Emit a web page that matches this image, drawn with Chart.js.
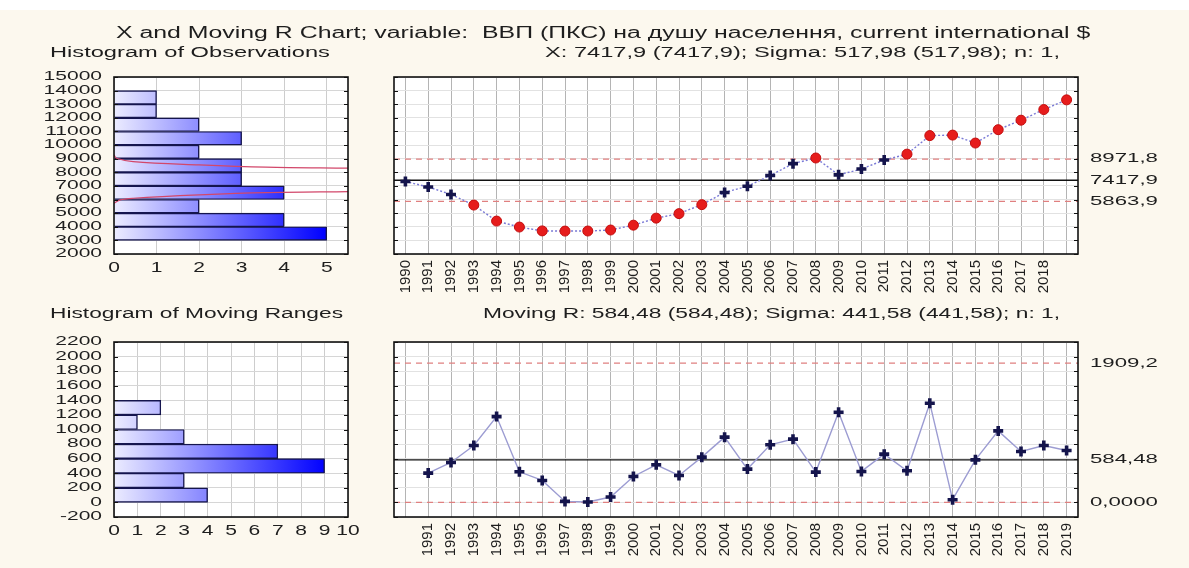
<!DOCTYPE html>
<html>
<head>
<meta charset="utf-8">
<script src="https://cdn.jsdelivr.net/npm/chart.js@4.4.1/dist/chart.umd.min.js"></script>
<style>
  html, body { margin: 0; padding: 0; }
  body { width: 1189px; height: 568px; background: #fcf8ee; position: relative; overflow: hidden; }
  .strip { position: absolute; left: 0; top: 0; width: 1189px; height: 10px; background: #fff; }
  canvas { position: absolute; left: 0; top: 0; }
  .t { position: absolute; white-space: pre; transform-origin: left center; color: #1e1e1e; line-height: 1; }
</style>
</head>
<body>
<div class="strip"></div>
<canvas id="obsHist" width="1189" height="568"></canvas>
<canvas id="xChart" width="1189" height="568"></canvas>
<canvas id="mrHist" width="1189" height="568"></canvas>
<canvas id="mrChart" width="1189" height="568"></canvas>
<script>
// --- data ---
const years = ['1990','1991','1992','1993','1994','1995','1996','1997','1998','1999',
  '2000','2001','2002','2003','2004','2005','2006','2007','2008','2009',
  '2010','2011','2012','2013','2014','2015','2016','2017','2018','2019'];
const xTickLabels = ['1990','1991','1992','1993','1994','1995','1996','1997','1998','1999',
  '2000','2001','2002','2003','2004','2005','2006','2007','2008','2009',
  '2010','2011','2012','2013','2014','2015','2016','2017','2018',''];
const mrTickLabels = ['','1991','1992','1993','1994','1995','1996','1997','1998','1999',
  '2000','2001','2002','2003','2004','2005','2006','2007','2008','2009',
  '2010','2011','2012','2013','2014','2015','2016','2017','2018','2019'];

// GDP (PPP) per capita, current international $
const gdpValues = [7325, 6923, 6375, 5595, 4418, 3980, 3697, 3683, 3688, 3762,
  4118, 4634, 4965, 5625, 6520, 6977, 7767, 8635, 9051, 7814,
  8239, 8901, 9335, 10696, 10733, 10149, 11130, 11828, 12608, 13320];
// moving ranges (no value for the first year)
const mrValues = [null, 402, 548, 780, 1177, 420, 301, 14, 5, 74,
  356, 516, 370, 621, 895, 457, 790, 868, 416, 1237,
  425, 662, 434, 1361, 37, 584, 981, 698, 780, 712];

const xCenter = 7417.9, xUcl = 8971.8, xLcl = 5863.9;
const xLimitLabels = ['8971,8', '7417,9', '5863,9'];
const mrCenter = 584.48, mrUcl = 1909.2, mrLcl = 0;
const mrLimitLabels = ['1909,2', '584,48', '0,0000'];

// histogram of observations (bin start, width 1000)
const obsBinStart = [3000, 4000, 5000, 6000, 7000, 8000, 9000, 10000, 11000, 12000, 13000];
const obsCounts   = [5, 4, 2, 4, 3, 3, 2, 3, 2, 1, 1];
const obsBinWidth = 1000;
// normal curve drawn over it, two branches (count, value)
const normUpperCount = [0, 0.06, 0.45, 2.0, 3.57, 5.5];
const normUpperValue = [9280, 9035, 8787, 8544, 8375, 8300];
const normLowerCount = [0, 0.14, 0.45, 2.0, 3.57, 5.5];
const normLowerValue = [5728, 5970, 6093, 6338, 6507, 6581];

// histogram of moving ranges (bin start, width 200)
const mrBinStart = [0, 200, 400, 600, 800, 1000, 1200];
const mrCounts   = [4, 3, 9, 7, 3, 1, 2];
const mrBinWidth = 200;

// axis ticks
const obsAxisTicks = [2000,3000,4000,5000,6000,7000,8000,9000,10000,11000,12000,13000,14000,15000];
const obsCountTicks = [0, 1, 2, 3, 4, 5];
const mrAxisTicks = [-200,0,200,400,600,800,1000,1200,1400,1600,1800,2000,2200];
const mrCountTicks = [0,1,2,3,4,5,6,7,8,9,10];

const mainTitle = 'X and Moving R Chart; variable:  ВВП (ПКС) на душу населення, current international $';
const obsHistTitle = 'Histogram of Observations';
const xSubTitle = 'X: 7417,9 (7417,9); Sigma: 517,98 (517,98); n: 1,';
const mrHistTitle = 'Histogram of Moving Ranges';
const mrSubTitle = 'Moving R: 584,48 (584,48); Sigma: 441,58 (441,58); n: 1,';

// --- layout ---
const W = 1189, H = 568;
const FONT = '"Liberation Sans", Arial, sans-serif';
const TXT = '#1e1e1e';
const histBox = { left: 114, right: 348 };
const ctrlBox = { left: 394, right: 1078 };
const topRow = { top: 77, bottom: 254 };
const botRow = { top: 342, bottom: 517 };

function pad(box, row, xAxisH) {
  return { left: box.left, right: W - box.right, top: row.top, bottom: H - row.bottom - (xAxisH || 0) };
}

// white plot area, black frame, short inner ticks
const panel = {
  id: 'panel',
  beforeDraw(chart) {
    const a = chart.chartArea, ctx = chart.ctx;
    ctx.save();
    ctx.fillStyle = '#fff';
    ctx.fillRect(a.left, a.top, a.width, a.height);
    ctx.restore();
  },
  afterDraw(chart) {
    const a = chart.chartArea, ctx = chart.ctx, ys = chart.scales.y;
    ctx.save();
    ctx.strokeStyle = '#111';
    ctx.lineWidth = 1;
    ys.ticks.forEach(t => {
      const p = Math.round(ys.getPixelForValue(t.value)) + 0.5;
      ctx.beginPath();
      ctx.moveTo(a.left, p); ctx.lineTo(a.left + 4, p);
      ctx.moveTo(a.right, p); ctx.lineTo(a.right - 4, p);
      ctx.stroke();
    });
    ctx.lineWidth = 1.6;
    ctx.strokeRect(a.left, a.top, a.width, a.height);
    ctx.restore();
  }
};

// horizontally stretched labels, placed through the chart's scales
function labels(specs) {
  return {
    id: 'labels',
    afterDraw(chart) {
      const ctx = chart.ctx, a = chart.chartArea;
      specs.forEach(sp => {
        const s = chart.scales[sp.scale];
        ctx.save();
        ctx.font = sp.font;
        ctx.fillStyle = TXT;
        ctx.textBaseline = 'middle';
        sp.values.forEach((v, i) => {
          const p = s.getPixelForValue(v);
          const text = sp.texts ? sp.texts[i] : String(v);
          let x, y, align;
          if (sp.side === 'bottom') { x = p; y = a.bottom + sp.gap; align = 'center'; }
          else if (sp.side === 'left') { x = a.left - sp.gap; y = p; align = 'right'; }
          else { x = a.right + sp.gap; y = p; align = 'left'; }
          ctx.save();
          ctx.translate(x, y);
          ctx.scale(sp.sx, 1);
          ctx.textAlign = align;
          ctx.fillText(text, 0, 0);
          ctx.restore();
        });
        ctx.restore();
      });
    }
  };
}

// center line and control limits
function controlLines(center, ucl, lcl) {
  return {
    id: 'controlLines',
    beforeDatasetsDraw(chart) {
      const ctx = chart.ctx, a = chart.chartArea, ys = chart.scales.y;
      ctx.save();
      ctx.lineWidth = 1.3;
      ctx.strokeStyle = '#e08080';
      ctx.setLineDash([6, 5]);
      [ucl, lcl].forEach(v => {
        const p = ys.getPixelForValue(v);
        ctx.beginPath(); ctx.moveTo(a.left, p); ctx.lineTo(a.right, p); ctx.stroke();
      });
      ctx.setLineDash([]);
      ctx.strokeStyle = '#111';
      const c = ys.getPixelForValue(center);
      ctx.beginPath(); ctx.moveTo(a.left, c); ctx.lineTo(a.right, c); ctx.stroke();
      ctx.restore();
    }
  };
}

function barGradient(ctx) {
  const chart = ctx.chart, a = chart.chartArea;
  if (!a) return '#8080ff';
  const g = chart.ctx.createLinearGradient(a.left, 0, a.left + 212, 0);
  g.addColorStop(0, '#ececff');
  g.addColorStop(1, '#0000ff');
  return g;
}

const noLabels = { display: false };
const baseOpts = {
  responsive: false,
  animation: false,
  events: [],
  plugins: { legend: { display: false }, tooltip: { enabled: false } }
};

function histChart(id, row, binStart, counts, binWidth, countTicks, axisTicks, countMax, extra) {
  const datasets = [{
    type: 'bar',
    data: binStart.map((b, i) => ({ x: counts[i], y: b + binWidth / 2 })),
    backgroundColor: barGradient,
    borderColor: '#15154e',
    borderWidth: 1.4,
    borderSkipped: 'start',
    barPercentage: 1,
    categoryPercentage: 1,
    order: 2
  }].concat(extra || []);
  return new Chart(document.getElementById(id), {
    type: 'bar',
    data: { datasets },
    options: Object.assign({}, baseOpts, {
      indexAxis: 'y',
      layout: { padding: pad(histBox, row) },
      scales: {
        x: {
          type: 'linear', min: countTicks[0], max: countMax,
          afterBuildTicks: s => { s.ticks = countTicks.map(v => ({ value: v })); },
          ticks: noLabels, border: { display: false },
          grid: { color: '#cdcdcd', drawTicks: false },
          afterFit: s => { s.height = 0; }
        },
        y: {
          type: 'linear', offset: false, min: axisTicks[0], max: axisTicks[axisTicks.length - 1],
          afterBuildTicks: s => { s.ticks = axisTicks.map(v => ({ value: v })); },
          ticks: noLabels, border: { display: false },
          grid: { color: '#d6d6d6', drawTicks: false, offset: false },
          afterFit: s => { s.width = 0; }
        }
      }
    }),
    plugins: [panel, labels([
      { scale: 'x', side: 'bottom', values: countTicks, gap: 14, font: '14px ' + FONT, sx: 1.5 },
      { scale: 'y', side: 'left', values: axisTicks, gap: 12, font: '12px ' + FONT, sx: 1.75 }
    ])]
  });
}

function controlChart(id, row, values, tickLabels, axisTicks, center, ucl, lcl, limitLabels, lineStyle) {
  const outside = v => v > ucl || v < lcl;
  return new Chart(document.getElementById(id), {
    type: 'line',
    data: {
      labels: years,
      datasets: [{
        data: values,
        borderColor: lineStyle.color,
        borderWidth: 1.4,
        borderDash: lineStyle.dash,
        spanGaps: false,
        pointStyle: c => outside(c.raw) ? 'circle' : 'cross',
        pointRadius: c => outside(c.raw) ? 5 : 5,
        pointBorderWidth: c => outside(c.raw) ? 1 : 3.6,
        pointBackgroundColor: c => outside(c.raw) ? '#e61c1c' : '#14144c',
        pointBorderColor: c => outside(c.raw) ? '#c40e0e' : '#14144c'
      }]
    },
    options: Object.assign({}, baseOpts, {
      layout: { padding: pad(ctrlBox, row, 48) },
      scales: {
        x: {
          type: 'category', offset: true,
          grid: { color: '#b4b4b4', offset: false, drawTicks: false },
          border: { display: false },
          ticks: {
            autoSkip: false, minRotation: 90, maxRotation: 90, padding: 6,
            color: TXT, font: { family: FONT, size: 15 },
            callback: (v, i) => tickLabels[i]
          },
          afterFit: s => { s.height = 48; }
        },
        y: {
          type: 'linear', min: axisTicks[0], max: axisTicks[axisTicks.length - 1],
          afterBuildTicks: s => { s.ticks = axisTicks.map(v => ({ value: v })); },
          ticks: noLabels, border: { display: false },
          grid: { color: '#e2e2e2', drawTicks: false },
          afterFit: s => { s.width = 0; }
        }
      }
    }),
    plugins: [panel, controlLines(center, ucl, lcl), labels([
      { scale: 'y', side: 'right', values: [ucl, center, lcl], texts: limitLabels, gap: 12, font: '12px ' + FONT, sx: 1.85 }
    ])]
  });
}

histChart('obsHist', topRow, obsBinStart, obsCounts, obsBinWidth, obsCountTicks, obsAxisTicks, 5.5, [
  { type: 'line', data: normUpperCount.map((c, i) => ({ x: c, y: normUpperValue[i] })),
    borderColor: '#d2476a', borderWidth: 1.2, pointRadius: 0, tension: 0.35, order: 1 },
  { type: 'line', data: normLowerCount.map((c, i) => ({ x: c, y: normLowerValue[i] })),
    borderColor: '#d2476a', borderWidth: 1.2, pointRadius: 0, tension: 0.35, order: 1 }
]);
controlChart('xChart', topRow, gdpValues, xTickLabels, obsAxisTicks, xCenter, xUcl, xLcl, xLimitLabels,
  { color: '#7a7ad6', dash: [2, 2] });
histChart('mrHist', botRow, mrBinStart, mrCounts, mrBinWidth, mrCountTicks, mrAxisTicks, 10, null);
controlChart('mrChart', botRow, mrValues, mrTickLabels, mrAxisTicks, mrCenter, mrUcl, mrLcl, mrLimitLabels,
  { color: '#9c9cd2', dash: [] });

// titles: stretched to the width they take in the reference
function placeText(text, left, right, cy, size) {
  const el = document.createElement('div');
  el.className = 't';
  el.textContent = text;
  el.style.font = size + 'px ' + FONT;
  document.body.appendChild(el);
  const r = el.getBoundingClientRect();
  el.style.left = left + 'px';
  el.style.top = (cy - r.height / 2) + 'px';
  el.style.transform = 'scaleX(' + ((right - left) / r.width).toFixed(3) + ')';
}
placeText(mainTitle, 116, 1090, 33, 16);
placeText(obsHistTitle, 50, 330, 52, 14);
placeText(xSubTitle, 545, 1060, 52, 14);
placeText(mrHistTitle, 50, 343, 313, 14);
placeText(mrSubTitle, 483, 1060, 313, 14);
</script>
</body>
</html>
